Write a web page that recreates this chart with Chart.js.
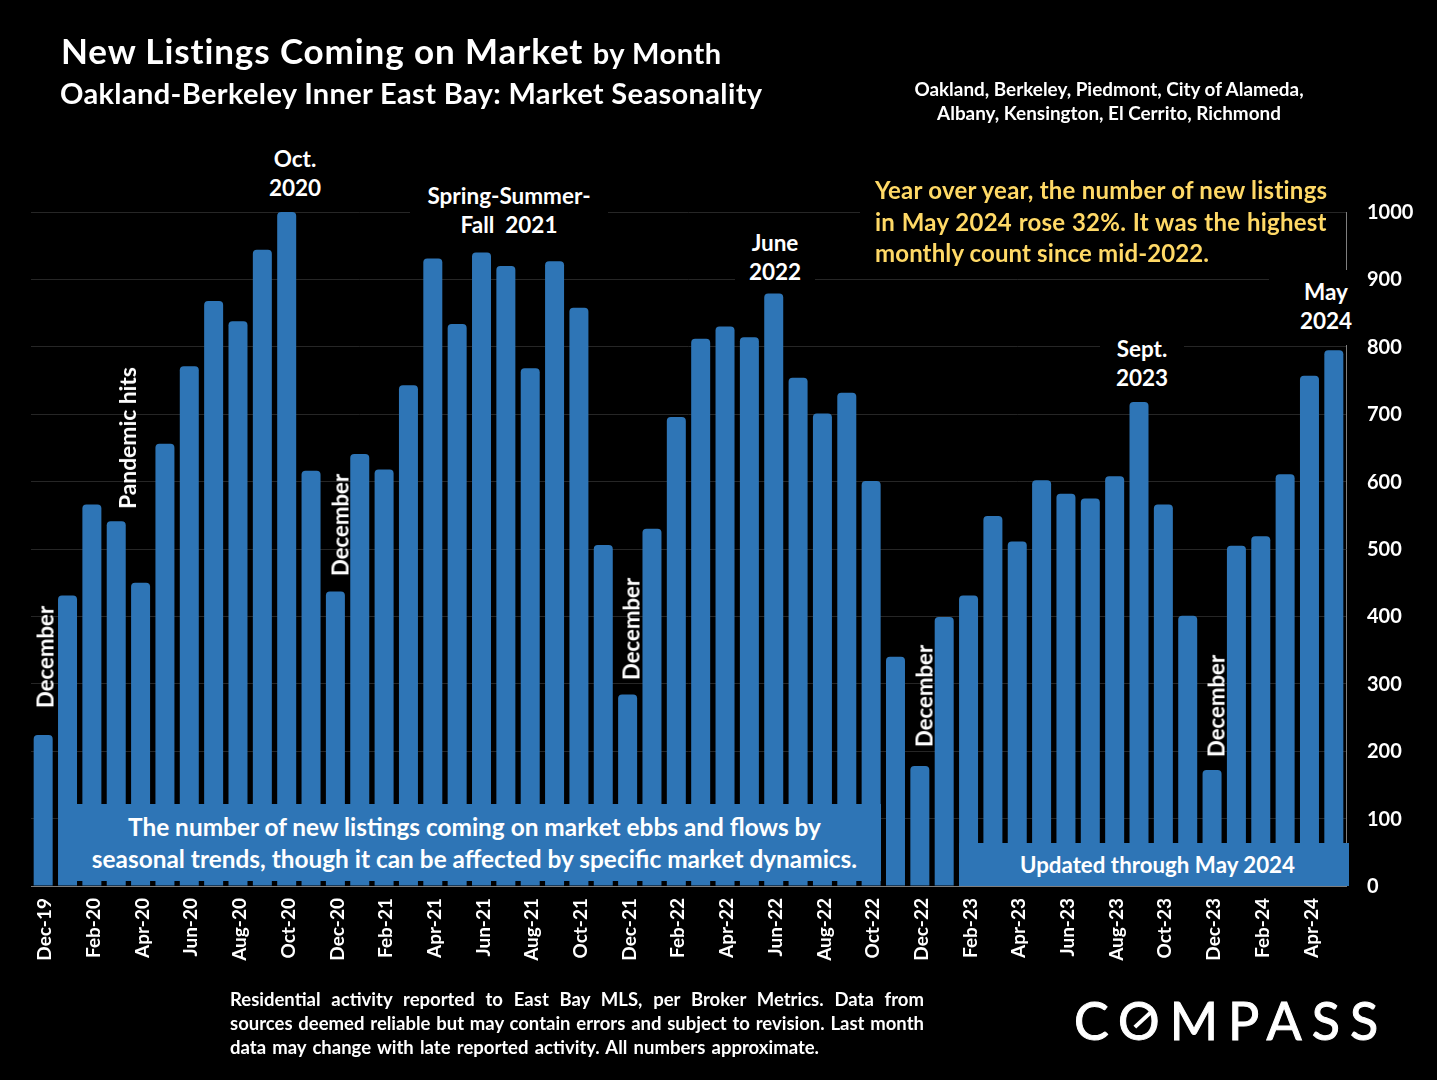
<!DOCTYPE html>
<html>
<head>
<meta charset="utf-8">
<script src="https://cdn.jsdelivr.net/npm/chart.js@4"></script>
<style>
html, body { margin: 0; padding: 0; background: #000; }
body { width: 1437px; height: 1080px; position: relative; overflow: hidden; font-family: Lato, sans-serif; font-weight: 700; color: #fff; }
canvas { position: absolute; left: 0; top: 0; }
.t { position: absolute; white-space: nowrap; }
.c { text-align: center; }
.note { font-size: 22.5px; line-height: 28.5px; background: #000; text-align: center; }
.v { position: absolute; font-size: 22.2px; white-space: nowrap; transform: translate(-50%, -50%) rotate(-90deg); }
.box { position: absolute; background: #2e75b6; text-align: center; }
.fill { text-align: justify; text-align-last: justify; }
</style>
</head>
<body>
<canvas id="myChart" width="1437" height="1080"></canvas>

<div class="t" style="left:61px;top:29px;font-size:35px;letter-spacing:0.9px;">New Listings Coming on Market <span style="font-size:29px;letter-spacing:0.55px">by Month</span></div>
<div class="t" style="left:60px;top:75px;font-size:29px;letter-spacing:0.35px;">Oakland-Berkeley Inner East Bay: Market Seasonality</div>
<div class="t c" style="left:890px;width:438px;top:77px;font-size:18.9px;line-height:24px;">Oakland, Berkeley, Piedmont, City of Alameda,<br>Albany, Kensington, El Cerrito, Richmond</div>

<div class="t note" style="left:255px;width:80px;top:145px;">Oct.<br>2020</div>
<div class="t note" style="left:410px;width:198px;top:182px;">Spring-Summer-<br>Fall&nbsp; 2021</div>
<div class="t note" style="left:735px;width:80px;top:229px;">June<br>2022</div>
<div class="t note" style="left:1100px;width:84px;top:335px;">Sept.<br>2023</div>
<div class="t note" style="left:1269px;width:91px;top:270px;height:75px;box-sizing:border-box;padding:8px 0 0 23px;">May<br>2024</div>

<div class="t" style="left:860px;width:409px;top:174px;height:96px;padding-left:15px;box-sizing:border-box;background:#000;color:#ffd966;font-size:24px;line-height:31.5px;letter-spacing:0.23px;">Year over year, the number of new listings<br><span style="word-spacing:0.6px">in May 2024 rose 32%. It was the highest</span><br><span style="letter-spacing:0.12px">monthly count since mid-2022.</span></div>

<div class="v" style="left:45px;top:657px;">December</div>
<div class="v" style="left:127px;top:438px;font-size:22.8px;">Pandemic hits</div>
<div class="v" style="left:340px;top:525px;">December</div>
<div class="v" style="left:631px;top:629px;">December</div>
<div class="v" style="left:924px;top:696px;">December</div>
<div class="v" style="left:1216px;top:706px;">December</div>

<div class="box" style="left:68px;top:804px;width:813px;height:77px;font-size:24.4px;line-height:31.5px;padding-top:7px;box-sizing:border-box;">The number of new listings coming on market ebbs and flows by<br>seasonal trends, though it can be affected by specific market dynamics.</div>
<div class="box" style="left:959px;top:843px;width:390px;height:43px;font-size:22.3px;line-height:44px;padding-left:7px;box-sizing:border-box;">Updated through May 2024</div>

<div class="t" style="left:230px;top:987px;width:694px;font-size:18.5px;line-height:24px;">
<div class="fill">Residential activity reported to East Bay MLS, per Broker Metrics. Data from</div>
<div class="fill">sources deemed reliable but may contain errors and subject to revision. Last month</div>
<div style="width:589px;" class="fill">data may change with late reported activity. All numbers approximate.</div>
</div>
<div class="t" style="left:1074px;top:989px;font-weight:400;font-size:52px;letter-spacing:10px;-webkit-text-stroke:1px #fff;">COMPASS</div>
<div class="t" style="left:1132px;top:1018px;width:21px;height:4px;background:#fff;transform:rotate(-43deg);"></div>

<script>
// New listings per month
var months = [
    'Dec-19', 'Jan-20', 'Feb-20', 'Mar-20', 'Apr-20', 'May-20', 'Jun-20', 'Jul-20', 'Aug-20', 'Sep-20', 'Oct-20', 'Nov-20',
    'Dec-20', 'Jan-21', 'Feb-21', 'Mar-21', 'Apr-21', 'May-21', 'Jun-21', 'Jul-21', 'Aug-21', 'Sep-21', 'Oct-21', 'Nov-21',
    'Dec-21', 'Jan-22', 'Feb-22', 'Mar-22', 'Apr-22', 'May-22', 'Jun-22', 'Jul-22', 'Aug-22', 'Sep-22', 'Oct-22', 'Nov-22',
    'Dec-22', 'Jan-23', 'Feb-23', 'Mar-23', 'Apr-23', 'May-23', 'Jun-23', 'Jul-23', 'Aug-23', 'Sep-23', 'Oct-23', 'Nov-23',
    'Dec-23', 'Jan-24', 'Feb-24', 'Mar-24', 'Apr-24', 'May-24'
];
var listings = [
    224, 431, 566, 541, 450, 656, 771, 868, 838, 944, 1000, 616,
    437, 641, 618, 743, 931, 834, 940, 920, 768, 927, 858, 506,
    284, 530, 696, 812, 830, 814, 879, 754, 701, 732, 601, 340,
    178, 399, 431, 549, 511, 602, 582, 575, 608, 718, 566, 401,
    172, 505, 519, 611, 757, 795
];

var ctx = document.getElementById('myChart').getContext('2d');

var myChart = new Chart(ctx, {
    type: 'bar',
    data: {
        labels: months,
        datasets: [{
            data: listings,
            backgroundColor: '#2e75b6',
            borderRadius: { topLeft: 4, topRight: 4 },
            borderSkipped: 'bottom',
            categoryPercentage: 1,
            barPercentage: 0.78
        }]
    },
    options: {
        responsive: false,
        animation: false,
        layout: { padding: { left: 31, top: 212, right: 0, bottom: 0 } },
        plugins: { legend: { display: false }, tooltip: { enabled: false } },
        scales: {
            x: {
                afterFit: function (scale) { scale.height = 194; },
                grid: { display: false },
                border: { color: '#7f7f7f' },
                ticks: {
                    color: '#fff',
                    font: { family: 'Lato', size: 19, weight: 'bold' },
                    autoSkip: false,
                    minRotation: 90,
                    maxRotation: 90,
                    padding: 4,
                    labelOffset: 2,
                    callback: function (value, index) {
                        return index % 2 === 0 ? months[index] : '';
                    }
                }
            },
            y: {
                position: 'right',
                min: 0,
                max: 1000,
                afterFit: function (scale) { scale.width = 91; },
                grid: { color: '#262626', drawTicks: false },
                border: { color: '#7f7f7f' },
                ticks: {
                    color: '#fff',
                    font: { family: 'Lato', size: 20, weight: 'bold' },
                    stepSize: 100,
                    padding: 21,
                    labelOffset: 0.5,
                    callback: function (value) { return String(value); }
                }
            }
        }
    }
});
</script>
</body>
</html>
